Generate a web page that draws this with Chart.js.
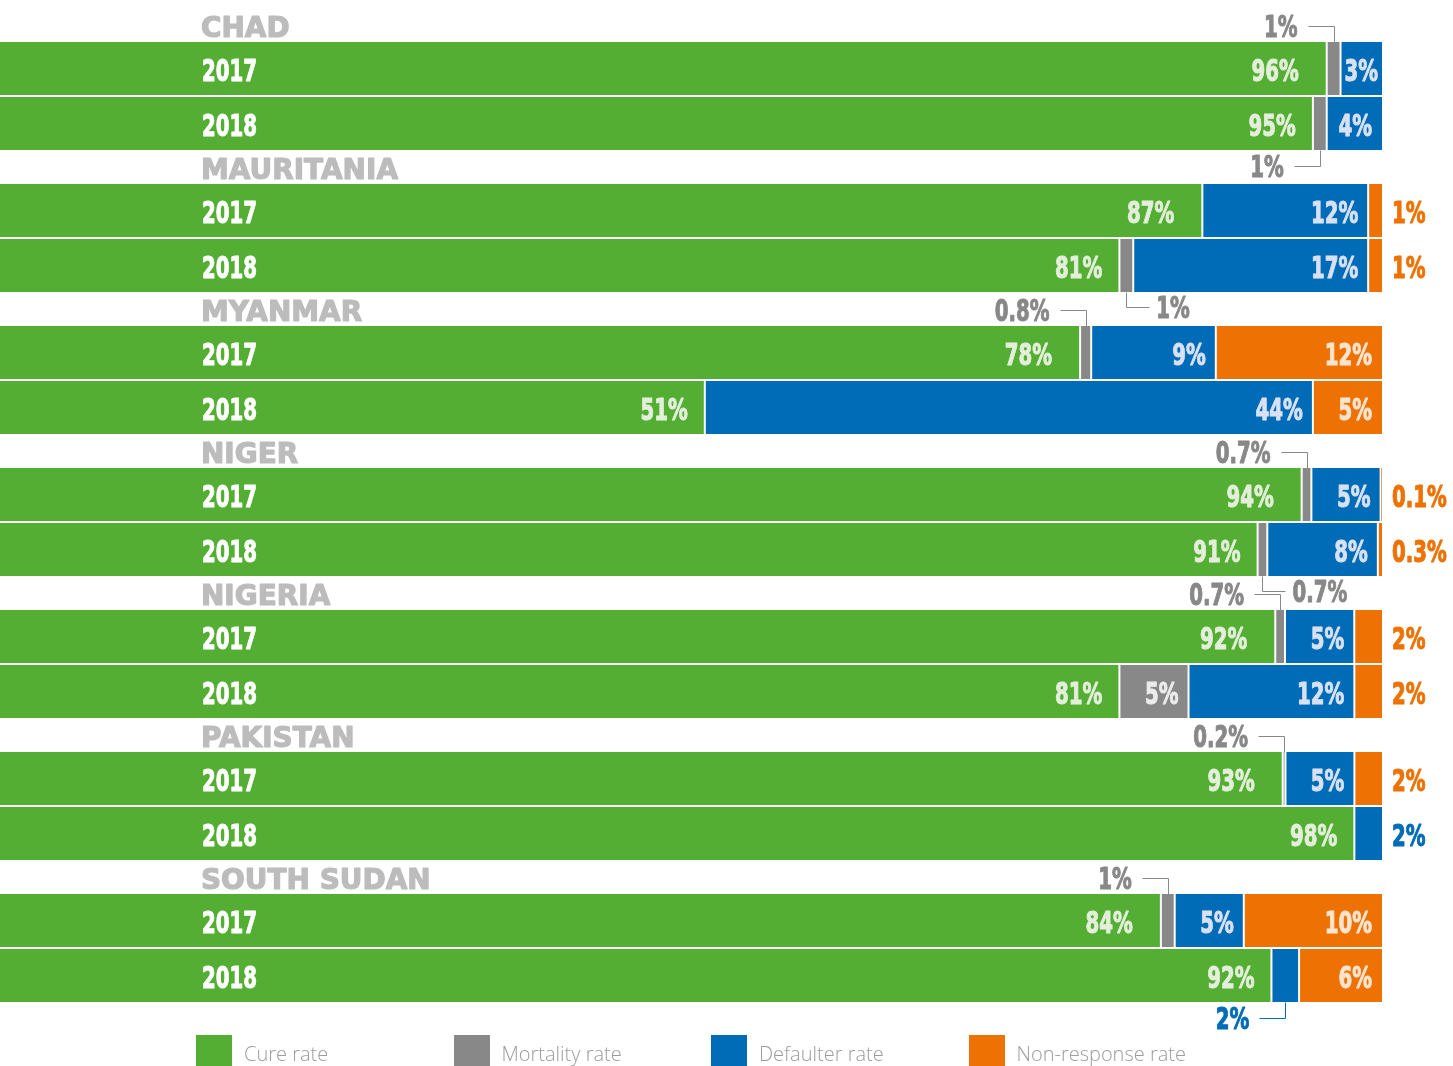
<!DOCTYPE html>
<html><head><meta charset="utf-8">
<script src="https://cdn.jsdelivr.net/npm/chart.js@4.4.1/dist/chart.umd.min.js"></script>
<style>
html,body{margin:0;padding:0;background:#fff;}
#wrap{position:relative;width:1453px;height:1066px;overflow:hidden;background:#fff;}
#c{position:absolute;left:0;top:0;}
#legend{position:absolute;left:0;top:1035px;width:1453px;height:31px;}
.item{position:absolute;top:0;height:31px;}
.sw{position:absolute;left:0;top:0;width:36px;height:31px;}
.lt{position:absolute;left:48px;top:0;line-height:37px;white-space:nowrap;font-family:'Open Sans',sans-serif;font-weight:300;font-size:20px;color:#9c9c9c;}
</style></head><body>
<div id="wrap"><canvas id="c" width="1453" height="1066"></canvas><div id="legend"></div></div>
<script>
// ---- data ----
const countries = ['CHAD','MAURITANIA','MYANMAR','NIGER','NIGERIA','PAKISTAN','SOUTH SUDAN'];
const years = ['2017','2018'];
const seriesNames = ['Cure rate','Mortality rate','Defaulter rate','Non-response rate'];
const cure2017        = [96, 87, 78, 94, 92, 93, 84];
const mortality2017   = [1, 0, 0.8, 0.7, 0.7, 0.2, 1];
const defaulter2017   = [3, 12, 9, 5, 5, 5, 5];
const nonResponse2017 = [0, 1, 12, 0.1, 2, 2, 10];
const cure2018        = [95, 81, 51, 91, 81, 98, 92];
const mortality2018   = [1, 1, 0, 0.7, 5, 0, 0];
const defaulter2018   = [4, 17, 44, 8, 12, 2, 2];
const nonResponse2018 = [0, 1, 5, 0.3, 2, 0, 6];

// ---- styles ----
const colors = ['#53ae33', '#888888', '#006bb6', '#ed7203'];
const innerText = ['#e3efda', '#ececec', '#d7e1f3', '#fde4cf'];
const calloutPlacement = [
  {country:0, year:0, series:1, side:'above'},
  {country:0, year:1, series:1, side:'belowLeft'},
  {country:1, year:0, series:3, side:'right'},
  {country:1, year:1, series:1, side:'belowRight'},
  {country:1, year:1, series:3, side:'right'},
  {country:2, year:0, series:1, side:'above'},
  {country:3, year:0, series:1, side:'above'},
  {country:3, year:0, series:3, side:'right'},
  {country:3, year:1, series:1, side:'belowRight'},
  {country:3, year:1, series:3, side:'right'},
  {country:4, year:0, series:1, side:'above'},
  {country:4, year:0, series:3, side:'right'},
  {country:4, year:1, series:3, side:'right'},
  {country:5, year:0, series:1, side:'above'},
  {country:5, year:0, series:3, side:'right'},
  {country:5, year:1, series:2, side:'right'},
  {country:6, year:0, series:1, side:'above'},
  {country:6, year:1, series:2, side:'belowLeft'}
];
const CF = "bold 30px 'Liberation Sans Narrow', 'DejaVu Sans Condensed', 'DejaVu Sans', sans-serif";
const HF = "bold 29px 'DejaVu Sans', sans-serif";

const byYear = [
  [cure2017, mortality2017, defaulter2017, nonResponse2017],
  [cure2018, mortality2018, defaulter2018, nonResponse2018]
];
const datasets = [];
byYear.forEach((rows, yi) => {
  const totals = countries.map((c, ci) => rows.reduce((a, r) => a + r[ci], 0));
  rows.forEach((vals, si) => {
    datasets.push({
      label: seriesNames[si],
      stack: years[yi],
      yearIndex: yi,
      seriesIndex: si,
      raw: vals,
      data: vals.map((v, ci) => v / totals[ci] * 100),
      backgroundColor: colors[si],
      borderColor: '#ffffff',
      borderWidth: (c) => {
        const ci = c.dataIndex;
        const isLast = rows.slice(si + 1).every(r => !r[ci]);
        return {left: si === 0 ? 0 : 1, right: isLast ? 0 : 1, top: 0, bottom: 0};
      },
      borderSkipped: false
    });
  });
});

function placementOf(ci, yi, si) {
  const p = calloutPlacement.find(o => o.country === ci && o.year === yi && o.series === si);
  return p ? p.side : 'in';
}
function txt(ctx, s, x, y, align, color, font, sx, bold) {
  ctx.save();
  ctx.font = font; ctx.fillStyle = color; ctx.textAlign = align; ctx.textBaseline = 'alphabetic';
  ctx.translate(x, y); ctx.scale(sx, 1);
  if (bold) { ctx.strokeStyle = color; ctx.lineWidth = bold; ctx.lineJoin = 'round'; ctx.strokeText(s, 0, 0); }
  ctx.fillText(s, 0, 0);
  ctx.restore();
}
function line(ctx, pts, color) {
  ctx.save(); ctx.strokeStyle = color; ctx.lineWidth = 1; ctx.beginPath();
  pts.forEach((p, i) => { const x = Math.round(p[0]) + 0.5, y = Math.round(p[1]) + 0.5; i ? ctx.lineTo(x, y) : ctx.moveTo(x, y); });
  ctx.stroke(); ctx.restore();
}

const labelPlugin = {
  id: 'labels',
  afterDatasetsDraw(chart) {
    const ctx = chart.ctx, area = chart.chartArea;
    ctx.save();
    ctx.font = CF; const sx = Math.min(1, 55 / ctx.measureText('2017').width);
    ctx.font = HF; const hx = 197 / ctx.measureText('MAURITANIA').width;
    ctx.restore();
    const tw = s => { ctx.save(); ctx.font = CF; const w = ctx.measureText(s).width * sx; ctx.restore(); return w; };
    chart.data.datasets.forEach((ds, di) => {
      const meta = chart.getDatasetMeta(di);
      const yi = ds.yearIndex, si = ds.seriesIndex;
      meta.data.forEach((el, ci) => {
        const p = el.getProps(['x', 'y', 'base', 'height'], true);
        const left = Math.min(p.x, p.base), right = Math.max(p.x, p.base);
        const top = p.y - p.height / 2, bottom = p.y + p.height / 2;
        const cx = (left + right) / 2;
        if (si === 0) {
          txt(ctx, years[yi], 202, p.y + 12, 'left', '#ffffff', CF, sx, 1);
          if (yi === 0) txt(ctx, countries[ci], 201, top - 5, 'left', '#bcbcbc', HF, hx, 1.2);
        }
        const raw = ds.raw[ci];
        if (!raw) return;
        const text = raw + '%';
        const side = placementOf(ci, yi, si);
        const w = tw(text);
        if (side === 'in') {
          const pad = si === 0 ? (yi === 0 ? 28 : 17) : 10;
          if (right - left < w + pad + 4) {
            txt(ctx, text, cx, p.y + 12, 'center', innerText[si], CF, sx, 1);
          } else {
            txt(ctx, text, right - pad, p.y + 12, 'right', innerText[si], CF, sx, 1);
          }
        } else if (side === 'right') {
          txt(ctx, text, area.right + 10, p.y + 12, 'left', colors[si], CF, sx, 1);
        } else if (side === 'above') {
          const ly = top - 16;
          line(ctx, [[cx, top], [cx, ly], [cx - 26, ly]], colors[si]);
          txt(ctx, text, cx - 36, top - 5, 'right', colors[si], CF, sx, 1);
        } else if (side === 'belowLeft') {
          const ly = bottom + 16;
          line(ctx, [[cx, bottom], [cx, ly], [cx - 26, ly]], colors[si]);
          txt(ctx, text, cx - 36, ly + 11, 'right', colors[si], CF, sx, 1);
        } else if (side === 'belowRight') {
          const ly = bottom + 15;
          line(ctx, [[cx, bottom], [cx, ly], [cx + 23, ly]], colors[si]);
          txt(ctx, text, cx + 30, ly + 11, 'left', colors[si], CF, sx, 1);
        }
      });
    });
  }
};

new Chart(document.getElementById('c'), {
  type: 'bar',
  data: { labels: countries, datasets: datasets },
  options: {
    indexAxis: 'y',
    responsive: false,
    animation: false,
    events: [],
    categoryPercentage: 110 / 142,
    barPercentage: 53 / 55,
    layout: { padding: { left: 0, right: 71, top: 25, bottom: 47 } },
    scales: {
      x: { stacked: true, min: 0, max: 100, display: false },
      y: { stacked: true, display: false }
    },
    plugins: { legend: { display: false }, tooltip: { enabled: false } }
  },
  plugins: [labelPlugin]
});

// HTML legend
const lg = document.getElementById('legend');
seriesNames.forEach((n, i) => {
  const it = document.createElement('div');
  it.className = 'item';
  it.style.left = (196 + i * 257.5) + 'px';
  const sw = document.createElement('div'); sw.className = 'sw'; sw.style.background = colors[i];
  const t = document.createElement('div'); t.className = 'lt'; t.textContent = n;
  it.appendChild(sw); it.appendChild(t); lg.appendChild(it);
});
</script>
</body></html>
